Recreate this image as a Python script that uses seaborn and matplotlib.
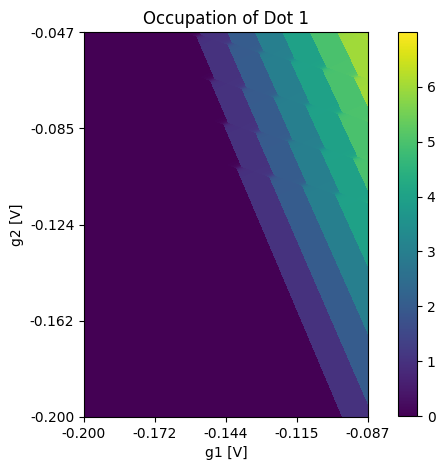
import numpy as np
import matplotlib.pyplot as plt
import seaborn as sns

# gate ranges and tick labels
g1_range = [-0.200, -0.087]
g2_range = [-0.047, -0.200]
x_labels = ['-0.200', '-0.172', '-0.144', '-0.115', '-0.087']
y_labels = ['-0.047', '-0.085', '-0.124', '-0.162', '-0.200']
cbar_ticks = [0, 1, 2, 3, 4, 5, 6]

# dot 1 transition lines (empty dot 2): 0->1 line position at the bottom edge, slope, spacing
dot1_g1_bottom = -0.0973
dot1_slope = -0.425
dot1_spacing_bottom = 0.0125
dot1_spacing_top = 0.0110

# dot 2 transition lines (empty dot 1): a point on the 0->1 line, slope, spacing
dot2_point = [-0.1399, -0.1010]
dot2_slope = -0.375
dot2_spacing = 0.0155

# coupling between the dots
mutual = 0.19
charging_ratio = 2.0
tunnel = 0.05

nx, ny = 284, 385
g1 = np.linspace(g1_range[0], g1_range[1], nx)
g2 = np.linspace(g2_range[0], g2_range[1], ny)
G1, G2 = np.meshgrid(g1, g2)

# normalised dot levels
frac = (G2 - g2_range[1]) / (g2_range[0] - g2_range[1])
s1 = dot1_spacing_bottom + (dot1_spacing_top - dot1_spacing_bottom) * frac
c1 = dot1_g1_bottom + dot1_slope * (G2 - g2_range[1])
x1 = (G1 - c1) / s1
c2 = dot2_point[1] + dot2_slope * (G1 - dot2_point[0])
x2 = (G2 - c2) / dot2_spacing

n = np.arange(10)
N1 = n[:, None, None, None]
N2 = n[None, :, None, None]
E = (0.5 * N1 * (N1 - 1) - N1 * x1
     + charging_ratio * (0.5 * N2 * (N2 - 1) - N2 * x2)
     + mutual * N1 * N2)
flat = E.reshape(len(n) * len(n), ny, nx)
idx = flat.argmin(axis=0)
n1a, n2a = np.divmod(idx, len(n))
e0 = np.take_along_axis(flat, idx[None], 0)[0]

occ = n1a.astype(float)
# charge sharing across the interdot lines
for d in (1, -1):
    p1 = n1a + d
    p2 = n2a - d
    ok = (p1 >= 0) & (p1 < len(n)) & (p2 >= 0) & (p2 < len(n))
    pidx = np.clip(p1, 0, len(n) - 1) * len(n) + np.clip(p2, 0, len(n) - 1)
    ep = np.take_along_axis(flat, pidx[None], 0)[0]
    delta = ep - e0
    w = 0.5 * (1 - delta / np.sqrt(delta ** 2 + 4 * tunnel ** 2))
    occ += np.where(ok, d * w, 0)

fig = plt.figure(figsize=(4.45, 4.70), dpi=100)
ax = fig.add_axes([84 / 445, 53 / 470, 284 / 445, 385 / 470])
cax = fig.add_axes([398 / 445, 54 / 470, 19 / 445, 384 / 470])

sns.heatmap(occ, cmap='viridis', vmin=0, vmax=7, ax=ax, cbar_ax=cax,
            xticklabels=False, yticklabels=False)

for s in ax.spines.values():
    s.set_visible(True)
ax.set_xticks(np.linspace(0, nx, 5))
ax.set_xticklabels(x_labels)
ax.set_yticks(np.linspace(0, ny, 5))
ax.set_yticklabels(y_labels, rotation=0)
ax.set_xlabel('g1 [V]')
ax.set_ylabel('g2 [V]')
ax.set_title('Occupation of Dot 1')

cb = ax.collections[0].colorbar
cb.outline.set_linewidth(0.8)
cb.set_ticks(cbar_ticks)

fig.savefig('out.png', dpi=100)
